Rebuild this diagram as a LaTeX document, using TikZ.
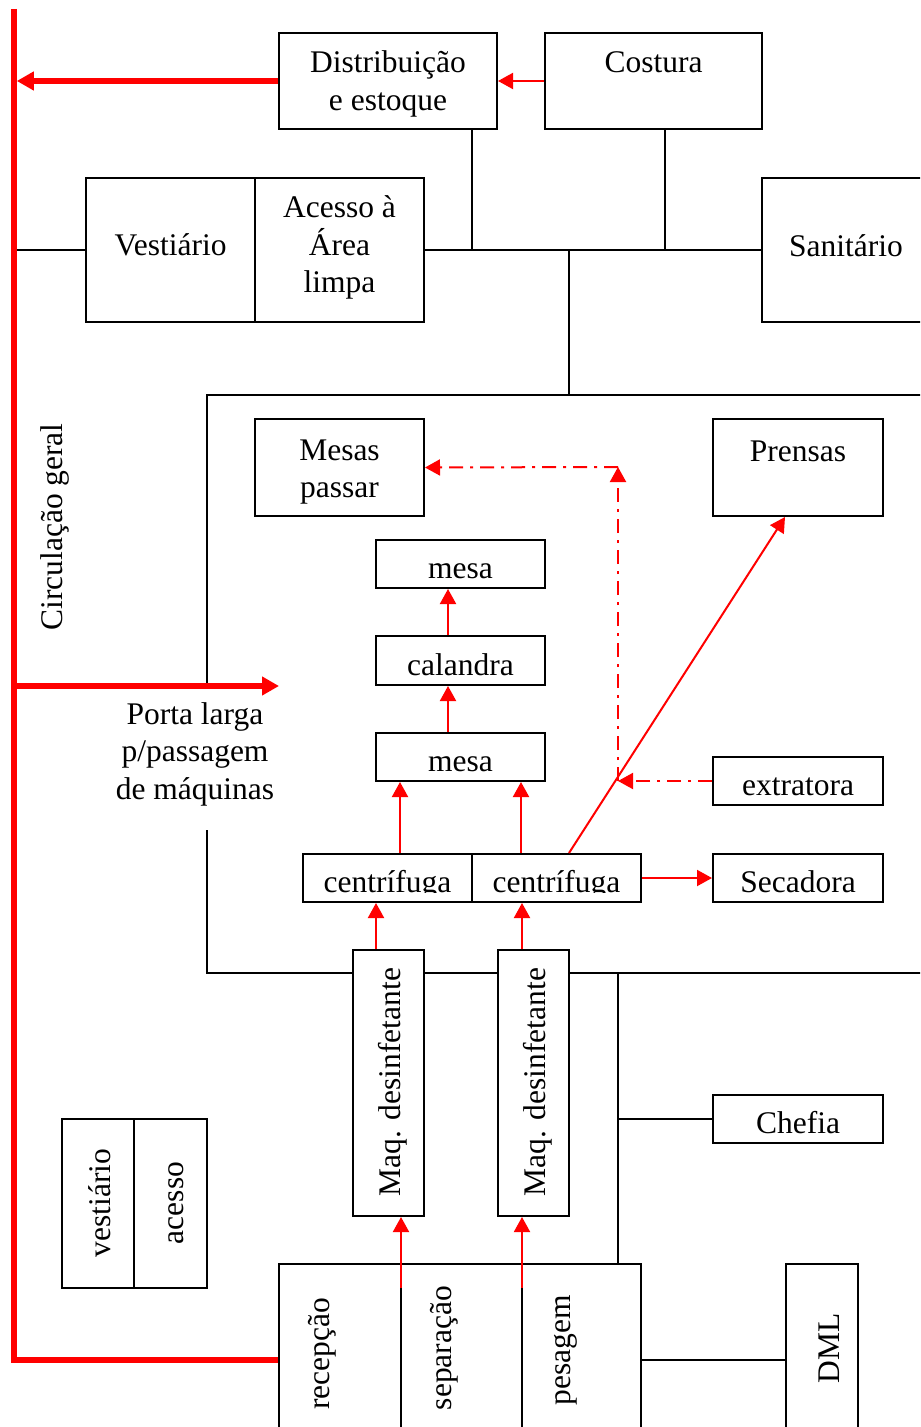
\documentclass[tikz,border=0pt]{standalone}
\usepackage{fontspec}
\setmainfont{Liberation Serif}
\usetikzlibrary{arrows.meta,fit,calc}

% a framed area given by its two opposite corners
\newcommand\areabox[5]{\node[room, fit={(#2,#3) (#4,#5)}] (#1) {};}
% a label whose lower part is cut off by the frame it sits in
\newcommand\cutlabel[6]{%
  \begin{scope}
    \clip (#2,#3) rectangle (#4,#5-10);
    \node[lbl, anchor=base] (#1) at ({(#2+#4)/2},#5-10) {#6};
  \end{scope}}

\begin{document}
\begin{tikzpicture}[x=0.5pt,y=-0.5pt,
  lbl/.style={font=\fontsize{15.75pt}{18.75pt}\selectfont, inner sep=0pt, align=center},
  room/.style={draw, line width=1pt, fill=white, inner sep=0pt, rectangle},
  wire/.style={line width=1.3pt},
  flow/.style={red, line width=1pt, -{Triangle[length=7.5pt,width=8pt]}},
  bigflow/.style={red, line width=2.75pt, -{Triangle[length=8.5pt,width=9pt]}},
  mainline/.style={red, line width=2.75pt},
  dashflow/.style={flow, dash pattern=on 7pt off 3.5pt on 1.5pt off 3.5pt},
]
\useasboundingbox (0,0) rectangle (920,1427);
\clip (0,0) rectangle (920,1427);

% junction points of the corridors
\coordinate (ctop) at (14,9);
\coordinate (cbot) at (14,1360);
\coordinate (j1) at (472,250);
\coordinate (j2) at (665,250);
\coordinate (j3) at (569,250);
\coordinate (j4) at (618,973);
\coordinate (porta) at (279,686);
\coordinate (k1) at (618,781);
\coordinate (k2) at (618,467);
\coordinate (d1) at (401,1288);
\coordinate (d2) at (522,1288);

% walls of the clean-area hall
\draw[wire] (935,395) -- (207,395) -- (207,686);
\draw[wire] (207,830) -- (207,973) -- (935,973);

% upper block
\areabox{dist}{279}{33}{497}{129}
\areabox{cost}{545}{33}{762}{129}
\areabox{vest}{86}{178}{255}{322}
\areabox{aces}{255}{178}{424}{322}
\areabox{sanit}{762}{178}{935}{322}

\node[lbl, anchor=base] (dist-t) at (388,110.5) {Distribuição\\e estoque};
\node[lbl, anchor=base] (cost-t) at (653.5,73) {Costura};
\node[lbl, anchor=base] (vest-t) at (170.5,256) {Vestiário};
\node[lbl, anchor=base] (aces-t) at (339.5,293) {Acesso à\\Área\\limpa};
\node[lbl, anchor=base] (sanit-t) at (846,256.5) {Sanitário};

\draw[wire] (ctop |- vest.west) -- (vest.west);
\draw[wire] (aces.east) -- (sanit.west);
\draw[wire] (j1 |- dist.south) -- (j1);
\draw[wire] (j2 |- cost.south) -- (j2);
\draw[wire] (j3) -- (j3 |- 0,395);

% clean area
\areabox{mesas}{255}{419}{424}{516}
\areabox{prens}{713}{419}{883}{516}
\areabox{mesa1}{376}{540}{545}{588}
\areabox{cal}{376}{636}{545}{685}
\areabox{mesa2}{376}{733}{545}{781}
\areabox{extr}{713}{757}{883}{805}
\areabox{cent1}{303}{854}{472}{902}
\areabox{cent2}{472}{854}{641}{902}
\areabox{secad}{713}{854}{883}{902}

\node[lbl, anchor=base] (mesas-t) at (339.5,497.5) {Mesas\\passar};
\node[lbl, anchor=base] (prens-t) at (798,461) {Prensas};
\cutlabel{mesa1-t}{376}{540}{545}{588}{mesa}
\cutlabel{cal-t}{376}{636}{545}{685}{calandra}
\cutlabel{mesa2-t}{376}{733}{545}{781}{mesa}
\cutlabel{extr-t}{713}{757}{883}{805}{extratora}
\cutlabel{cent1-t}{303}{854}{472}{902}{centrífuga}
\cutlabel{cent2-t}{472}{854}{641}{902}{centrífuga}
\cutlabel{secad-t}{713}{854}{883}{902}{Secadora}

% dirty area
\areabox{maq1}{353}{950}{424}{1216}
\areabox{maq2}{498}{950}{569}{1216}
\areabox{chef}{713}{1095}{883}{1143}
\areabox{vst2}{62}{1119}{134}{1288}
\areabox{acs2}{134}{1119}{207}{1288}
\areabox{recv}{279}{1264}{641}{1440}
\areabox{dml}{786}{1264}{858}{1440}

\node[lbl, rotate=90] (maq1-t) at (393,1082) {Maq. desinfetante};
\node[lbl, rotate=90] (maq2-t) at (538,1082) {Maq. desinfetante};
\cutlabel{chef-t}{713}{1095}{883}{1143}{Chefia}
\node[lbl, rotate=90] (vst2-t) at (100,1203) {vestiário};
\node[lbl, rotate=90] (acs2-t) at (176,1203) {acesso};
\node[lbl, rotate=90] (rec-t) at (322,1354) {recepção};
\node[lbl, rotate=90] (sep-t) at (444,1348) {separação};
\node[lbl, rotate=90] (pes-t) at (566,1350) {pesagem};
\node[lbl, rotate=90] (dml-t) at (829,1348) {DML};

\draw[wire] (d1) -- (d1 |- recv.south);
\draw[wire] (d2) -- (d2 |- recv.south);
\draw[wire] (j4) -- (j4 |- recv.north);
\draw[wire] (j4 |- chef.west) -- (chef.west);
\draw[wire] (cbot -| recv.east) -- (cbot -| dml.west);

% general circulation
\draw[mainline] (ctop) -- (cbot) -- (cbot -| recv.west);
\draw[bigflow, shorten >=1.4pt] (dist.west) -- (dist.west -| ctop);
\draw[bigflow] (ctop |- porta) -- (porta);
\node[lbl, rotate=90] (circ-t) at (55,527) {Circulação geral};
\node[lbl, anchor=base] (porta-t) at (195,799) {Porta larga\\p/passagem\\de máquinas};

% flow of the linen
\draw[flow] (cost.west) -- (dist.east);
\draw[flow] (d1) -- (d1 |- maq1.south);
\draw[flow] (d2) -- (d2 |- maq2.south);
\draw[flow] ([xshift=-6.25pt]maq1.north) -- ([xshift=-6.25pt]maq1.north |- cent1.south);
\draw[flow] ([xshift=-5.75pt]maq2.north) -- ([xshift=-5.75pt]maq2.north |- cent2.south);
\draw[flow] ([xshift=6.25pt]cent1.north) -- ([xshift=6.25pt]cent1.north |- mesa2.south);
\draw[flow] ([xshift=-17.75pt]cent2.north) -- ([xshift=-17.75pt]cent2.north |- mesa2.south);
\draw[flow] ([xshift=-6.25pt]mesa2.north) -- ([xshift=-6.25pt]mesa2.north |- cal.south);
\draw[flow] ([xshift=-6.25pt]cal.north) -- ([xshift=-6.25pt]cal.north |- mesa1.south);
\draw[flow] (cent2.east) -- (secad.west);
\draw[flow] ([xshift=6.25pt]cent2.north) -- ([xshift=-6.5pt]prens.south);
\draw[dashflow] (extr.west) -- (k1);
\draw[dashflow] (k1) -- (k2);
\draw[dashflow] (k2) -- (mesas.east);
\end{tikzpicture}
\end{document}
